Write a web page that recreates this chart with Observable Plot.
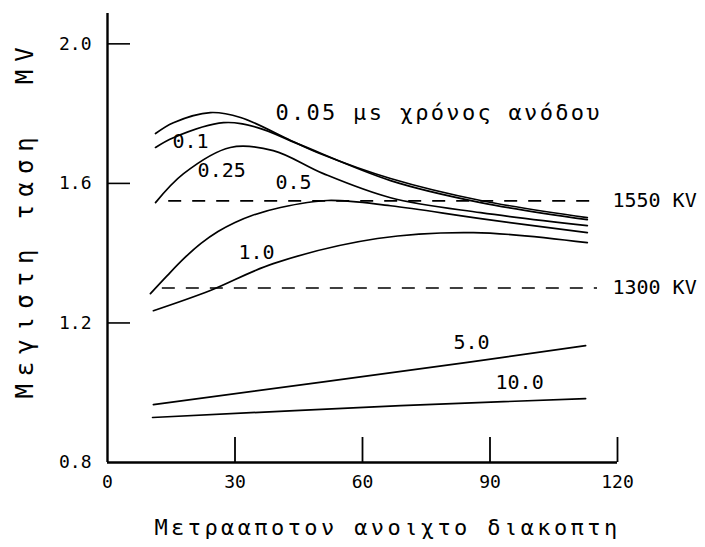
<!DOCTYPE html>
<html><head><meta charset="utf-8">
<script src="https://cdn.jsdelivr.net/npm/d3@7"></script>
<script src="https://cdn.jsdelivr.net/npm/@observablehq/plot@0.6"></script>
<style>body{margin:0;background:#fff} svg{display:block}</style>
</head><body><div id="chart"></div>
<script>
// ---- data ----
const xTicks = [0, 30, 60, 90, 120];
const yTicks = [0.8, 1.2, 1.6, 2.0];
const innerXTicks = [30, 60, 90, 120];
const innerYTicks = [1.2, 1.6, 2.0];

// rise time curves: [distance (m), max voltage (MV)]
const c005 = [[11.3,1.743],[15.5,1.774],[24.2,1.803],[31.3,1.789],[43.1,1.723],[50.1,1.685],[66.6,1.614],[87.8,1.551],[112.9,1.502]];
const c01  = [[11.3,1.703],[15.5,1.731],[27.3,1.774],[35.3,1.760],[44.7,1.714],[66.6,1.608],[87.8,1.545],[112.9,1.496]];
const c025 = [[11.3,1.545],[17.9,1.628],[28.9,1.703],[39.0,1.694],[50.8,1.628],[66.6,1.559],[87.8,1.516],[112.9,1.479]];
const c05  = [[10.1,1.284],[14.0,1.335],[18.0,1.385],[22.0,1.428],[26.0,1.462],[30.0,1.488],[34.0,1.508],[40.7,1.531],[51.8,1.551],[66.6,1.536],[87.8,1.499],[112.9,1.459]];
const c10  = [[10.8,1.235],[24.2,1.293],[39.0,1.370],[63.5,1.442],[86.1,1.459],[112.9,1.430]];
const c50  = [[10.8,0.966],[84.7,1.087],[112.5,1.135]];
const c100 = [[10.6,0.929],[69.0,0.963],[112.5,0.983]];

const limitLevels = [1.55, 1.30];
const limitLabels = ["1550 KV", "1300 KV"];
const limitStart = [14.4, 12.9];
const limitEnd = [114.8, 115.3];

const curveLabels = ["0.05 μs χρόνος ανόδου", "0.1", "0.25", "0.5", "1.0", "5.0", "10.0"];
const curveLabelX = [39.5, 15.3, 21.2, 39.5, 30.8, 81.4, 91.3];
const curveLabelY = [1.803, 1.720, 1.637, 1.602, 1.402, 1.144, 1.029];

const xTitle = "Μετρααποτον ανοιχτο διακοπτη";
const yTitle = "Μεγιστη ταση  MV";

// ---- layout ----
const W = 705, H = 547, mL = 107, mR = 88, mT = 13, mB = 85;
const xDom = [0, 120], yDom = [0.8, 2.087];
const pxX = (W - mL - mR) / (xDom[1] - xDom[0]);
const pxY = (H - mT - mB) / (yDom[1] - yDom[0]);
const tickLenX = 23 / pxX;   // inward y-ticks length in x units
const tickLenY = 25 / pxY;   // inward x-ticks length in y units

const mono = "DejaVu Sans Mono, monospace";
const series = [c005, c01, c025, c05, c10, c50, c100];

const plot = Plot.plot({
  width: W, height: H,
  marginLeft: mL, marginRight: mR, marginTop: mT, marginBottom: mB,
  x: {domain: xDom},
  y: {domain: yDom},
  style: {background: "#fff", color: "#000"},
  marks: [
    Plot.axisX({ticks: xTicks, tickSize: 0, tickPadding: 13, fontSize: 18, fontFamily: mono, label: null, tickFormat: d => String(d)}),
    Plot.axisY({ticks: yTicks, tickSize: 0, tickPadding: 16, fontSize: 18, fontFamily: mono, label: null, tickFormat: d3.format(".1f")}),
    // axes lines
    Plot.ruleX([xDom[0]], {y1: yDom[0], y2: yDom[1], stroke: "#000", strokeWidth: 2.4}),
    Plot.ruleY([yDom[0]], {x1: xDom[0], x2: xDom[1], stroke: "#000", strokeWidth: 2.4}),
    // inward ticks
    Plot.ruleY(innerYTicks, {x1: xDom[0], x2: xDom[0] + tickLenX, stroke: "#000", strokeWidth: 1.6}),
    Plot.ruleX(innerXTicks, {y1: yDom[0], y2: yDom[0] + tickLenY, stroke: "#000", strokeWidth: 1.8}),
    // dashed limits
    Plot.ruleY(limitLevels, {x1: (d, i) => limitStart[i], x2: (d, i) => limitEnd[i], stroke: "#000", strokeWidth: 1.6, strokeDasharray: "13,11"}),
    Plot.text(limitLevels, {x: 118.8, y: d => d, text: (d, i) => limitLabels[i], textAnchor: "start", fontSize: 20, fontFamily: mono, fill: "#000"}),
    // curves
    ...series.map(s => Plot.line(s, {x: d => d[0], y: d => d[1], curve: "catmull-rom", stroke: "#000", strokeWidth: 1.7})),
    // curve labels
    Plot.text(curveLabels, {x: (d, i) => curveLabelX[i], y: (d, i) => curveLabelY[i], text: d => d, textAnchor: "start", fontSize: d => d.length > 5 ? 22 : 20, fontFamily: mono, fill: "#000"}),
    // axis titles
    Plot.text([xTitle], {frameAnchor: "bottom", textAnchor: "middle", dx: 25, dy: 72, text: d => d, fontSize: 22, fontFamily: mono, fill: "#000"}),
    Plot.text([yTitle], {frameAnchor: "left", textAnchor: "middle", dx: -82, dy: -19, rotate: -90, text: d => d, fontSize: 24, fontFamily: mono, fill: "#000"})
  ]
});

// letter spacing to imitate the typewriter spacing
plot.querySelectorAll("text").forEach(t => {
  const s = t.textContent;
  if (s === xTitle) t.setAttribute("letter-spacing", "3.4");
  else if (s === yTitle) t.setAttribute("letter-spacing", "8");
  else if (s === curveLabels[0]) t.setAttribute("letter-spacing", "2.3");
});
document.getElementById("chart").appendChild(plot);
</script>
</body></html>
